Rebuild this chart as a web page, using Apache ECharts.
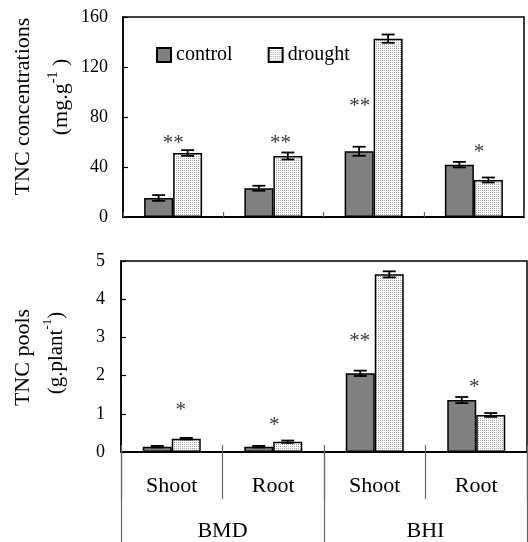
<!DOCTYPE html>
<html>
<head>
<meta charset="utf-8">
<script src="https://cdn.jsdelivr.net/npm/echarts@6/dist/echarts.min.js"></script>
<style>
html,body{margin:0;padding:0;background:#fff;}
#c{width:528px;height:542px;}
</style>
</head>
<body>
<div id="c"></div>
<script>
// ---- data ----
var organs = ['Shoot', 'Root', 'Shoot', 'Root'];
var cultivars = ['BMD', 'BHI'];
var seriesNames = ['control', 'drought'];

var concControl = [15.2, 23.0, 52.6, 41.9];
var concControlErr = [2.3, 2.0, 3.6, 2.2];
var concDrought = [51.2, 48.8, 142.7, 29.6];
var concDroughtErr = [2.3, 2.8, 3.3, 2.0];

var poolControl = [0.14, 0.14, 2.06, 1.36];
var poolControlErr = [0.02, 0.02, 0.07, 0.08];
var poolDrought = [0.35, 0.27, 4.65, 0.97];
var poolDroughtErr = [0.02, 0.03, 0.08, 0.05];

var concTicks = [0, 40, 80, 120, 160];
var poolTicks = [0, 1, 2, 3, 4, 5];

// significance marks: text, y position (data units)
var concSig = ['**', '**', '**', '*'];
var concSigY = [61.4, 61.4, 90.7, 53.8];
var poolSig = ['*', '*', '**', '*'];
var poolSigY = [1.16, 0.78, 2.98, 1.77];

// ---- styling ----
var FONT = 'Liberation Serif';
var BAR_W = 29;
var concSigDx = [0, 7, -14, 5];
var poolSigDx = [9, 1, -15, -2];

var pc = document.createElement('canvas');
pc.width = 2; pc.height = 2;
var pctx = pc.getContext('2d');
pctx.fillStyle = '#ffffff'; pctx.fillRect(0, 0, 2, 2);
pctx.fillStyle = '#a8a8a8'; pctx.fillRect(0, 0, 1, 1);
var dotPattern = { image: pc, repeat: 'repeat' };

function errData(vals, errs) {
  return vals.map(function (v, i) { return [i, v - errs[i], v + errs[i]]; });
}
function sigData(texts, ys, dxs) {
  return texts.map(function (t, i) {
    return { value: [i, ys[i]], label: { formatter: t, offset: [dxs[i], 3] } };
  });
}
function errRender(offset) {
  return function (params, api) {
    var x = api.value(0);
    var pLo = api.coord([x, api.value(1)]);
    var pHi = api.coord([x, api.value(2)]);
    var cx = pLo[0] + offset, h = 6.5;
    var st = { stroke: '#000', lineWidth: 1.8 };
    return {
      type: 'group', children: [
        { type: 'line', shape: { x1: cx, y1: pLo[1], x2: cx, y2: pHi[1] }, style: st },
        { type: 'line', shape: { x1: cx - h, y1: pHi[1], x2: cx + h, y2: pHi[1] }, style: st },
        { type: 'line', shape: { x1: cx - h, y1: pLo[1], x2: cx + h, y2: pLo[1] }, style: st }
      ]
    };
  };
}
function barSeries(name, data, xi, yi, color) {
  return {
    name: name, type: 'bar', xAxisIndex: xi, yAxisIndex: yi, data: data,
    barWidth: BAR_W, barGap: '0%',
    itemStyle: { color: color, borderColor: '#000', borderWidth: 1.5 },
    emphasis: { disabled: true }, z: 2
  };
}
function errSeries(data, xi, yi, off) {
  return {
    type: 'custom', xAxisIndex: xi, yAxisIndex: yi, data: data,
    renderItem: errRender(off), encode: { x: 0, y: [1, 2] }, z: 4, silent: true
  };
}
function sigSeries(data, xi, yi) {
  return {
    type: 'scatter', xAxisIndex: xi, yAxisIndex: yi, data: data, symbolSize: 0,
    silent: true, z: 5,
    label: { show: true, position: 'inside', color: '#000', fontFamily: FONT, fontSize: 21 }
  };
}

var chart = echarts.init(document.getElementById('c'), null, { renderer: 'canvas' });
var yLabel = { color: '#000', fontFamily: FONT, fontSize: 18 };
var option = {
  animation: false,
  backgroundColor: '#fff',
  grid: [
    { left: 123, top: 17, width: 401, height: 200, show: true, borderColor: '#000', borderWidth: 1.5, backgroundColor: 'transparent' },
    { left: 121, top: 261, width: 406, height: 192, show: true, borderColor: '#000', borderWidth: 1.5, backgroundColor: 'transparent' }
  ],
  legend: {
    left: 156, top: 45, padding: 0, itemWidth: 14, itemHeight: 14, itemGap: 35, icon: 'rect',
    data: seriesNames, selectedMode: false,
    textStyle: { color: '#000', fontFamily: FONT, fontSize: 20 }
  },
  xAxis: [
    { type: 'category', gridIndex: 0, data: organs, position: 'bottom',
      axisLine: { lineStyle: { color: '#000', width: 2 } },
      axisTick: { show: true, inside: true, length: 5, lineStyle: { color: '#666', width: 1.2 } },
      axisLabel: { show: false }, splitLine: { show: false } },
    { type: 'category', gridIndex: 1, data: organs, position: 'bottom',
      axisLine: { lineStyle: { color: '#000', width: 2 } },
      axisTick: { show: true, length: 47, lineStyle: { color: '#666', width: 1.2 } },
      axisLabel: { color: '#000', fontFamily: FONT, fontSize: 22, margin: 23, interval: 0 },
      splitLine: { show: false } },
    { type: 'category', gridIndex: 1, data: cultivars, position: 'bottom',
      axisLine: { show: false },
      axisTick: { show: true, length: 92, lineStyle: { color: '#666', width: 1.2 } },
      axisLabel: { color: '#000', fontFamily: FONT, fontSize: 22, margin: 68, interval: 0 },
      splitLine: { show: false } },
    { type: 'category', gridIndex: 1, data: organs, position: 'bottom',
      axisLine: { show: false },
      axisTick: { show: true, inside: true, length: 7, lineStyle: { color: '#666', width: 1.2 } },
      axisLabel: { show: false }, splitLine: { show: false } }
  ],
  yAxis: [
    { type: 'value', gridIndex: 0, min: concTicks[0], max: concTicks[concTicks.length - 1], interval: 40,
      axisLine: { show: true, lineStyle: { color: '#000', width: 1.5 } },
      axisTick: { show: true, inside: true, length: 5, lineStyle: { color: '#000', width: 1.2 } },
      axisLabel: Object.assign({ margin: 15 }, yLabel), splitLine: { show: false } },
    { type: 'value', gridIndex: 1, min: poolTicks[0], max: poolTicks[poolTicks.length - 1], interval: 1,
      axisLine: { show: true, lineStyle: { color: '#000', width: 1.5 } },
      axisTick: { show: true, inside: true, length: 5, lineStyle: { color: '#000', width: 1.2 } },
      axisLabel: Object.assign({ margin: 16 }, yLabel), splitLine: { show: false } }
  ],
  graphic: [
    { type: 'text', x: 23.5, y: 106.5, rotation: Math.PI / 2,
      style: { text: 'TNC concentrations', fill: '#000', font: '22px "Liberation Serif"', align: 'center', verticalAlign: 'middle' } },
    { type: 'text', x: 59, y: 97, rotation: Math.PI / 2,
      style: { text: '{m|(mg.g}{s|-1}{m| )}', align: 'center', verticalAlign: 'middle',
        rich: { m: { fill: '#000', fontFamily: FONT, fontSize: 22, lineHeight: 26, verticalAlign: 'bottom' },
                s: { fill: '#000', fontFamily: FONT, fontSize: 14, lineHeight: 26, verticalAlign: 'top' } } } },
    { type: 'text', x: 23.5, y: 357.5, rotation: Math.PI / 2,
      style: { text: 'TNC pools', fill: '#000', font: '22px "Liberation Serif"', align: 'center', verticalAlign: 'middle' } },
    { type: 'text', x: 54, y: 353, rotation: Math.PI / 2,
      style: { text: '{m|(g.plant}{s|-1}{m|)}', align: 'center', verticalAlign: 'middle',
        rich: { m: { fill: '#000', fontFamily: FONT, fontSize: 21, lineHeight: 25, verticalAlign: 'bottom' },
                s: { fill: '#000', fontFamily: FONT, fontSize: 13, lineHeight: 25, verticalAlign: 'top' } } } }
  ],
  series: [
    barSeries('control', concControl, 0, 0, '#808080'),
    barSeries('drought', concDrought, 0, 0, dotPattern),
    errSeries(errData(concControl, concControlErr), 0, 0, -BAR_W / 2),
    errSeries(errData(concDrought, concDroughtErr), 0, 0, BAR_W / 2),
    sigSeries(sigData(concSig, concSigY, concSigDx), 0, 0),
    barSeries('control', poolControl, 1, 1, '#808080'),
    barSeries('drought', poolDrought, 1, 1, dotPattern),
    errSeries(errData(poolControl, poolControlErr), 1, 1, -BAR_W / 2),
    errSeries(errData(poolDrought, poolDroughtErr), 1, 1, BAR_W / 2),
    sigSeries(sigData(poolSig, poolSigY, poolSigDx), 1, 1)
  ]
};
chart.setOption(option);
</script>
</body>
</html>
